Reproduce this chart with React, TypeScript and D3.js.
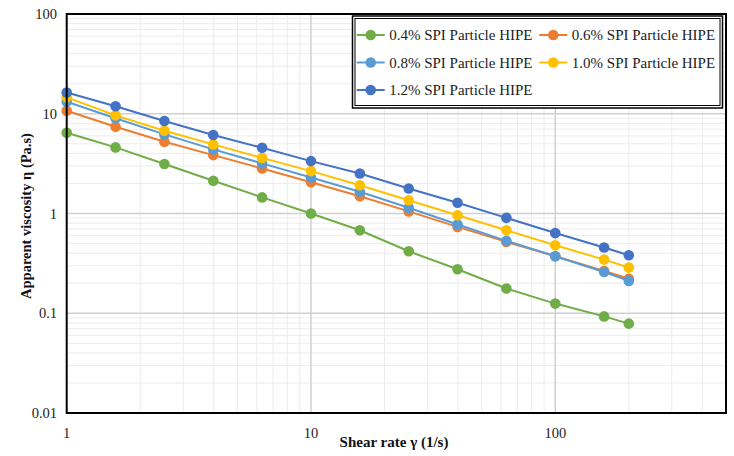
import React from "react";
import * as d3 from "d3";

const shearRate = [1, 1.585, 2.512, 3.981, 6.31, 10, 15.85, 25.12, 39.81, 63.1, 100, 158.5, 200];

const seriesNames = [
  "0.4% SPI Particle HIPE",
  "0.6% SPI Particle HIPE",
  "0.8% SPI Particle HIPE",
  "1.0% SPI Particle HIPE",
  "1.2% SPI Particle HIPE",
];

const spi04 = [6.44, 4.6, 3.13, 2.13, 1.45, 1.0, 0.68, 0.418, 0.276, 0.177, 0.125, 0.093, 0.0787];
const spi06 = [10.7, 7.4, 5.23, 3.85, 2.83, 2.06, 1.49, 1.05, 0.734, 0.519, 0.373, 0.265, 0.222];
const spi08 = [13.2, 9.0, 6.21, 4.39, 3.18, 2.3, 1.65, 1.14, 0.776, 0.531, 0.373, 0.259, 0.211];
const spi10 = [14.6, 9.64, 6.75, 4.93, 3.61, 2.66, 1.92, 1.36, 0.962, 0.68, 0.481, 0.345, 0.287];
const spi12 = [16.3, 11.9, 8.45, 6.12, 4.56, 3.35, 2.52, 1.78, 1.28, 0.904, 0.638, 0.456, 0.381];

const seriesValues = [spi04, spi06, spi08, spi10, spi12];
const colors = ["#70AD47", "#ED7D31", "#5B9BD5", "#FFC000", "#4472C4"];

const xTicks = [1, 10, 100];
const xTickLabels = ["1", "10", "100"];
const yTicks = [0.01, 0.1, 1, 10, 100];
const yTickLabels = ["0.01", "0.1", "1", "10", "100"];

const W = 734;
const H = 456;
const left = 66.7;
const right = 726;
const top = 14;
const bottom = 413;

export default function App() {
  const x = d3.scaleLog().domain([1, 500]).range([left, right]);
  const y = d3.scaleLog().domain([0.01, 100]).range([bottom, top]);

  const minorX: number[] = [];
  for (let p = 0; p < 3; p++) {
    for (let m = 2; m <= 9; m++) {
      const v = m * Math.pow(10, p);
      if (v < 500) minorX.push(v);
    }
  }
  const minorY: number[] = [];
  for (let p = -2; p < 2; p++) {
    for (let m = 2; m <= 9; m++) minorY.push(m * Math.pow(10, p));
  }

  const line = d3
    .line<number>()
    .x((_, i) => x(shearRate[i]))
    .y((d) => y(d));

  const font = "'Liberation Serif', 'Times New Roman', serif";

  const legendItems = seriesNames.map((name, i) => {
    const col = i % 2;
    const row = Math.floor(i / 2);
    const lx = col === 0 ? 356.7 : 539.3;
    const ly = 35 + row * 27.5;
    return { name, col, lx, ly, color: colors[i] };
  });

  return (
    <svg
      width={W}
      height={H}
      style={{ position: "absolute", left: 0, top: 0, background: "#fff" }}
      fontFamily={font}
    >
      <rect x={0} y={0} width={W} height={H} fill="#fff" />
      {minorX.map((v) => (
        <line key={"mx" + v} x1={x(v)} x2={x(v)} y1={top} y2={bottom} stroke="#ececec" strokeWidth={1} />
      ))}
      {minorY.map((v) => (
        <line key={"my" + v} x1={left} x2={right} y1={y(v)} y2={y(v)} stroke="#ececec" strokeWidth={1} />
      ))}
      {xTicks.slice(1).map((v) => (
        <line key={"Mx" + v} x1={x(v)} x2={x(v)} y1={top} y2={bottom} stroke="#d0d0d0" strokeWidth={1.5} />
      ))}
      {yTicks.slice(1, -1).map((v) => (
        <line key={"My" + v} x1={left} x2={right} y1={y(v)} y2={y(v)} stroke="#d0d0d0" strokeWidth={1.5} />
      ))}

      {seriesValues.map((vals, si) => (
        <g key={"s" + si}>
          <path d={line(vals) || ""} fill="none" stroke={colors[si]} strokeWidth={2} />
          {vals.map((v, i) => (
            <circle key={i} cx={x(shearRate[i])} cy={y(v)} r={5.3} fill={colors[si]} />
          ))}
        </g>
      ))}

      <rect x={left} y={top} width={right - left} height={bottom - top} fill="none" stroke="#000" strokeWidth={2} />

      {yTicks.map((v, i) => (
        <text key={"yt" + v} x={57} y={y(v)} dy="0.35em" textAnchor="end" fontSize={14.5} fill="#222">
          {yTickLabels[i]}
        </text>
      ))}
      {xTicks.map((v, i) => (
        <text key={"xt" + v} x={x(v)} y={438} textAnchor="middle" fontSize={14.5} fill="#222">
          {xTickLabels[i]}
        </text>
      ))}

      <text x={394} y={447} textAnchor="middle" fontSize={15} fontWeight="bold" fill="#111">
        Shear rate γ (1/s)
      </text>
      <text
        transform={`translate(31, 216) rotate(-90)`}
        textAnchor="middle"
        fontSize={14.5}
        fontWeight="bold"
        fill="#111"
      >
        Apparent viscosity η (Pa.s)
      </text>

      <rect x={352.5} y={16} width={370} height={92} fill="#fff" stroke="#000" strokeWidth={1.5} />
      <rect x={355} y={18.5} width={365} height={87} fill="none" stroke="#000" strokeWidth={1} />
      {legendItems.map((it) => (
        <g key={it.name}>
          <line x1={it.lx} x2={it.lx + 28} y1={it.ly} y2={it.ly} stroke={it.color} strokeWidth={2} />
          <circle cx={it.lx + 14} cy={it.ly} r={5.3} fill={it.color} />
          <text x={it.lx + 32.5} y={it.ly} dy="0.35em" fontSize={15} fill="#222">
            {it.name}
          </text>
        </g>
      ))}
    </svg>
  );
}
